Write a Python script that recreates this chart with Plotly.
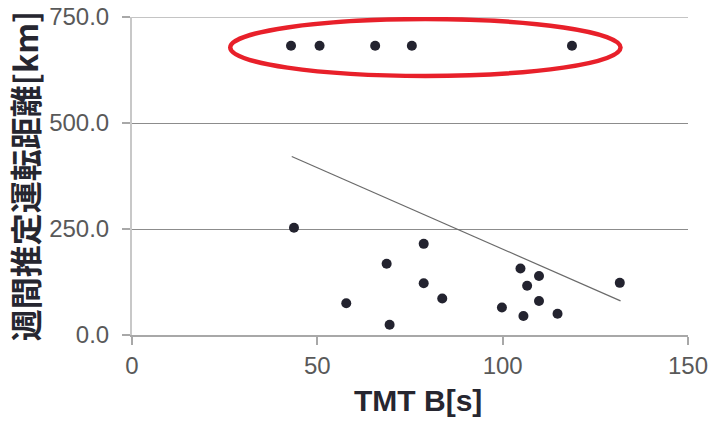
import plotly.graph_objects as go

# Data
tmt_b = [42.9, 50.6, 65.6, 75.5, 118.7,
         43.7, 57.8, 68.7, 69.5, 78.7, 78.7, 83.7, 99.8, 104.8, 105.6, 106.6, 109.8, 109.8, 114.8, 131.6]
distance = [682, 682, 682, 682, 682,
            253, 75, 168, 24, 215, 122, 86, 65, 157, 45, 116, 139, 80, 50, 123]
trend_x = [43.1, 131.8]
trend_y = [421, 80.5]
ellipse_x = [26.5, 131.8]
ellipse_y = [611, 745]
x_ticks = [0, 50, 100, 150]
y_ticks = [0, 250, 500, 750]
y_tick_text = ["0.0", "250.0", "500.0", "750.0"]

fig = go.Figure()
fig.add_trace(go.Scatter(x=trend_x, y=trend_y, mode="lines",
                         line=dict(color="#6a6a6a", width=1.2), hoverinfo="skip"))
fig.add_trace(go.Scatter(x=tmt_b, y=distance, mode="markers",
                         marker=dict(color="#23232f", size=10)))

fig.add_shape(type="line", xref="x", yref="y", x0=0, x1=150, y0=750, y1=750,
              line=dict(color="#c4c4c4", width=2), layer="below")
fig.add_shape(type="circle", xref="x", yref="y",
              x0=ellipse_x[0], x1=ellipse_x[1], y0=ellipse_y[0], y1=ellipse_y[1],
              line=dict(color="#e8202a", width=4.5))

fig.add_annotation(text="<b>TMT B[s]</b>", xref="paper", yref="paper",
                   x=0.514, y=-0.205, xanchor="center", yanchor="middle", showarrow=False,
                   font=dict(size=30, color="#262630", family="Liberation Sans, Arial, sans-serif"))

fig.update_layout(
    width=725, height=423,
    margin=dict(l=132, r=37, t=17, b=87.5, autoexpand=False),
    paper_bgcolor="white", plot_bgcolor="white",
    showlegend=False,
    font=dict(family="Liberation Sans, Arial, sans-serif", color="#595959"),
)
fig.update_xaxes(
    range=[0, 150], tickvals=x_ticks, ticktext=[str(v) for v in x_ticks],
    showgrid=False, zeroline=False, automargin=False,
    showline=True, linecolor="#a8a8a8", linewidth=2,
    ticks="outside", ticklen=8, tickcolor="#a8a8a8", tickwidth=1.5,
    tickfont=dict(size=24, color="#595959"),
)
fig.update_yaxes(
    range=[0, 750], tickvals=y_ticks, ticktext=y_tick_text,
    showgrid=True, gridcolor="#8c8c8c", gridwidth=1, zeroline=False, automargin=False,
    showline=True, linecolor="#c8c8c8", linewidth=2,
    ticks="outside", ticklen=8, tickcolor="#a8a8a8", tickwidth=1.5,
    ticklabelstandoff=8,
    tickfont=dict(size=24, color="#595959"),
    title=dict(text="<b>週間推定運転距離[km]</b>", standoff=1,
               font=dict(size=32, color="#262630", family="Noto Sans CJK JP")),
)

fig.write_html("out.html")
